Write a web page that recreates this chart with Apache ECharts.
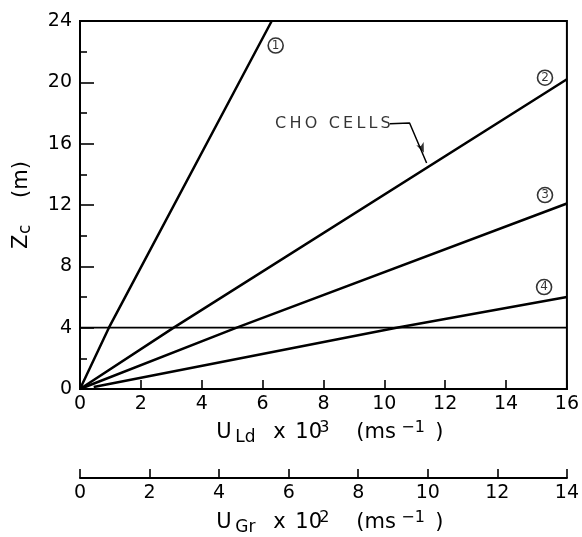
<!DOCTYPE html>
<html>
<head>
<meta charset="utf-8">
<script src="https://cdn.jsdelivr.net/npm/echarts@6/dist/echarts.min.js"></script>
<style>
html,body{margin:0;padding:0;background:#fff;}
#c{width:582px;height:537px;}
</style>
</head>
<body>
<div id="c"></div>
<script>
// ---- data ----
const xLdTicks = [0, 2, 4, 6, 8, 10, 12, 14, 16];
const xGrTicks = [0, 2, 4, 6, 8, 10, 12, 14];
const yTicks = [0, 4, 8, 12, 16, 20, 24];

const line1 = [[0, 0], [0.95, 4], [6.3, 24]];
const line2 = [[0, 0], [3.08, 4], [16, 20.2]];
const line3 = [[0, 0], [5.15, 4], [16, 12.1]];
const line4 = [[0.45, 0.13], [10.4, 4], [16, 6.0]];
const thresholdLine = [[0, 4], [16, 4]];

const curveNames = ['1', '2', '3', '4'];
const curveNameAt = [[6.43, 22.4], [15.28, 20.3], [15.28, 12.65], [15.25, 6.65]];

const choText = 'C\u2009H\u2009O\u2009 \u2009C\u2009E\u2009L\u2009L\u2009S';
const choTextAt = [6.41, 17.3];
const choLeader = [[10.18, 17.3], [10.83, 17.35], [11.39, 14.74]];
const choArrowAt = [11.3, 15.4];

// ---- chart ----
const FONT = 'DejaVu Sans';
const chart = echarts.init(document.getElementById('c'), null, {renderer: 'canvas'});

function step(arr) { return arr[1] - arr[0]; }

function tok(size, width, extra) {
  const s = {fontFamily: FONT, fontSize: size, color: '#000', align: 'left', lineHeight: 26};
  if (width != null) s.width = width;
  return Object.assign(s, extra || {});
}

const titleRich = {
  u:    tok(21, 19),
  sub:  tok(17, 38, {lineHeight: 18, verticalAlign: 'bottom'}),
  x:    tok(21, 22),
  ten:  tok(21, 24),
  sup:  tok(16, 37, {lineHeight: 14, verticalAlign: 'top'}),
  ms:   tok(21, 45),
  sup2: tok(16, 34, {lineHeight: 14, verticalAlign: 'top'}),
  cp:   tok(21, null)
};

function lineSeries(data, width) {
  return {
    type: 'line', xAxisIndex: 0, yAxisIndex: 0, data: data,
    showSymbol: false, symbol: 'none', silent: true,
    lineStyle: {color: '#000', width: width}
  };
}

const option = {
  animation: false,
  backgroundColor: '#fff',
  grid: [
    {left: 80, right: 12, top: 21, bottom: 148, show: true, borderColor: '#000', borderWidth: 2, containLabel: false},
    {left: 80, right: 12, top: 470, height: 10, show: false, containLabel: false}
  ],
  xAxis: [
    {
      gridIndex: 0, type: 'value',
      min: xLdTicks[0], max: xLdTicks[xLdTicks.length - 1], interval: step(xLdTicks),
      axisLine: {show: true, onZero: false, lineStyle: {color: '#000', width: 2}},
      axisTick: {show: true, inside: true, length: 9, lineStyle: {color: '#000', width: 1.6}},
      splitLine: {show: false},
      axisLabel: {fontFamily: FONT, fontSize: 19, color: '#000', margin: 6},
      name: '{u|U}{sub|Ld}{x|x}{ten|10}{sup|3}{ms|(ms}{sup2|\u22121}{cp|)}',
      nameLocation: 'middle', nameGap: 31,
      nameTextStyle: {rich: titleRich, padding: [0, 0, 0, 13]}
    },
    {
      gridIndex: 1, type: 'value',
      min: xGrTicks[0], max: xGrTicks[xGrTicks.length - 1], interval: step(xGrTicks),
      axisLine: {show: true, onZero: false, lineStyle: {color: '#000', width: 2}},
      axisTick: {show: true, inside: true, length: 9, lineStyle: {color: '#000', width: 1.6}},
      splitLine: {show: false},
      axisLabel: {fontFamily: FONT, fontSize: 19, color: '#000', margin: 6},
      name: '{u|U}{sub|Gr}{x|x}{ten|10}{sup|2}{ms|(ms}{sup2|\u22121}{cp|)}',
      nameLocation: 'middle', nameGap: 32,
      nameTextStyle: {rich: titleRich, padding: [0, 0, 0, 13]}
    }
  ],
  yAxis: [
    {
      gridIndex: 0, type: 'value',
      min: yTicks[0], max: yTicks[yTicks.length - 1], interval: step(yTicks),
      axisLine: {show: true, onZero: false, lineStyle: {color: '#000', width: 2}},
      axisTick: {show: true, inside: true, length: 14, lineStyle: {color: '#000', width: 1.6}},
      minorTick: {show: true, splitNumber: 2, length: 7, lineStyle: {color: '#000', width: 1.6}},
      splitLine: {show: false},
      minorSplitLine: {show: false},
      axisLabel: {fontFamily: FONT, fontSize: 19, color: '#000', margin: 8},
      name: '{z|Z}{c|c}{sp|}{t|(m)}',
      nameLocation: 'middle', nameRotate: 90, nameGap: 46,
      nameTextStyle: {
        rich: {
          z:  tok(21, 15, {lineHeight: 24}),
          c:  tok(17, 14, {lineHeight: 20, verticalAlign: 'bottom'}),
          sp: {width: 22, lineHeight: 24, align: 'left'},
          t:  tok(21, null, {lineHeight: 24})
        }
      }
    },
    {gridIndex: 1, type: 'value', show: false, min: 0, max: 1}
  ],
  series: [
    lineSeries(line1, 2.5),
    lineSeries(line2, 2.5),
    lineSeries(line3, 2.5),
    lineSeries(line4, 2.5),
    lineSeries(thresholdLine, 1.6),
    lineSeries(choLeader, 1.5),
    {
      type: 'scatter', xAxisIndex: 0, yAxisIndex: 0, silent: true,
      data: curveNameAt.map((p, i) => ({value: p, name: curveNames[i]})),
      symbol: 'circle', symbolSize: 15,
      itemStyle: {color: '#fff', borderColor: '#000', borderWidth: 1.6},
      label: {show: true, position: 'inside', formatter: p => p.name,
              fontFamily: FONT, fontSize: 12, color: '#000'}
    },
    {
      type: 'scatter', xAxisIndex: 0, yAxisIndex: 0, silent: true,
      data: [{value: choTextAt, name: choText}],
      symbolSize: 0,
      label: {show: true, position: 'right', distance: 0, formatter: p => p.name,
              fontFamily: FONT, fontSize: 16, color: '#000'}
    },
    {
      type: 'scatter', xAxisIndex: 0, yAxisIndex: 0, silent: true,
      data: [choArrowAt],
      symbol: 'arrow', symbolSize: [6, 10], symbolRotate: -157,
      itemStyle: {color: '#000'}
    }
  ]
};

chart.setOption(option);
</script>
</body>
</html>
